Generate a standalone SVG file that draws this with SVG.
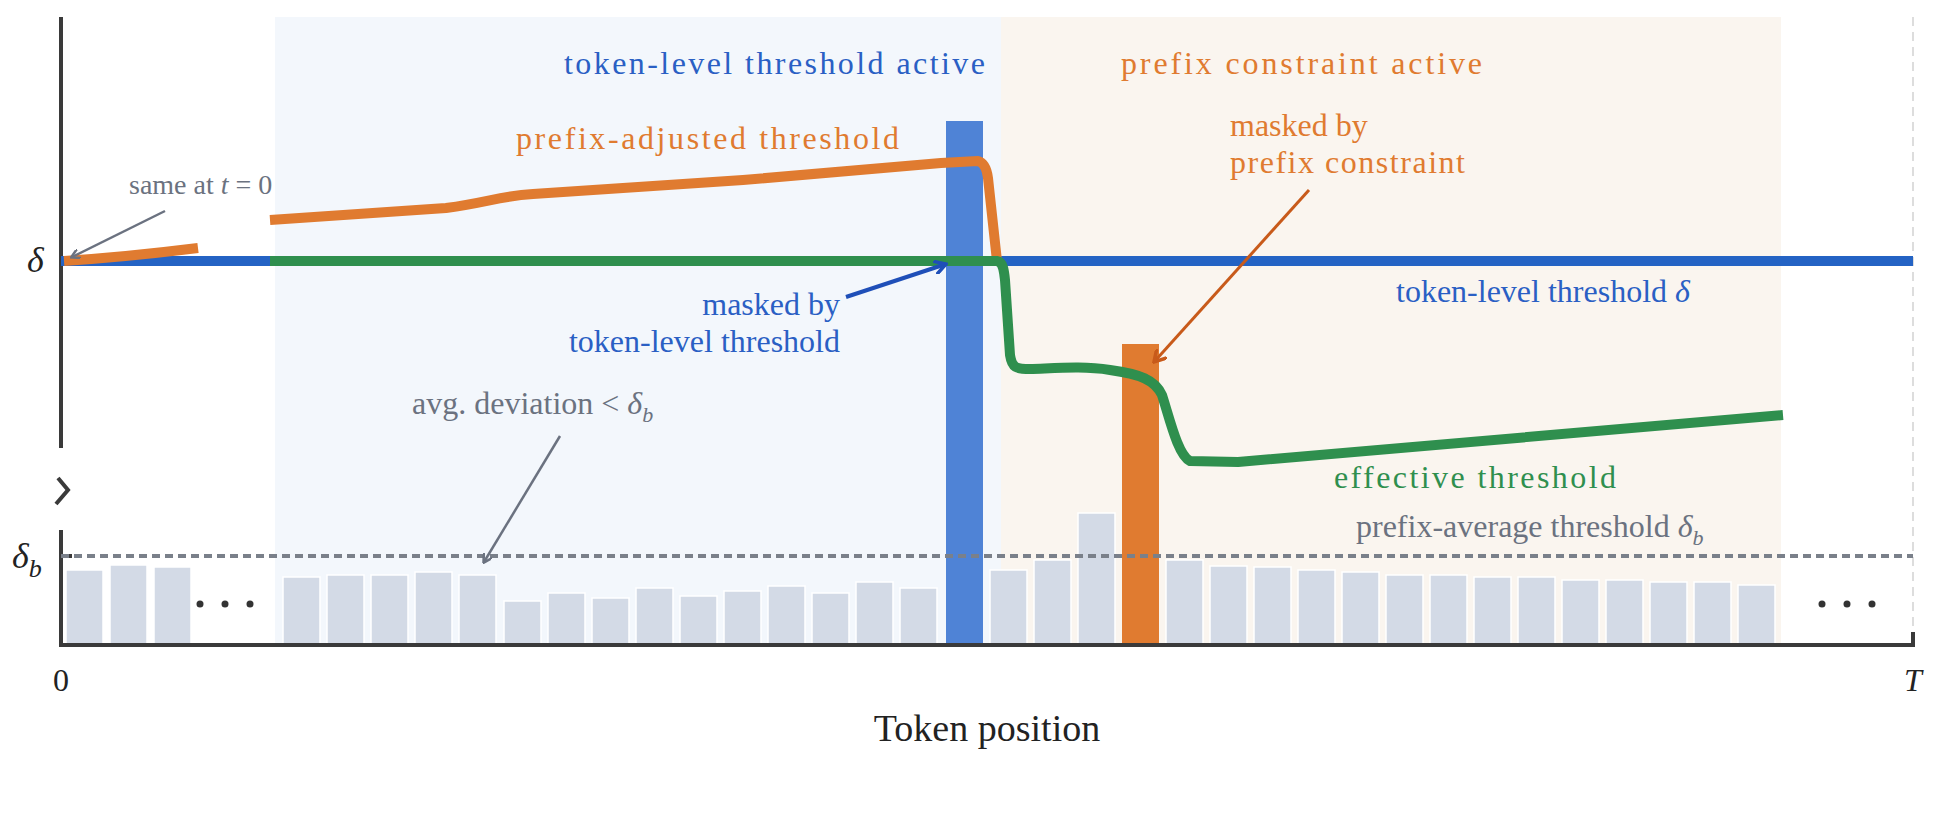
<svg xmlns="http://www.w3.org/2000/svg" width="1942" height="826" viewBox="0 0 1942 826">
<defs>
<marker id="ag" markerWidth="10" markerHeight="10" refX="8" refY="5" orient="auto" markerUnits="userSpaceOnUse"><path d="M0,0 L9,5 L0,10" fill="none" stroke="#6b7280" stroke-width="2.5"/></marker>
<marker id="ab" markerWidth="14" markerHeight="14" refX="12" refY="7" orient="auto" markerUnits="userSpaceOnUse"><path d="M0,0 L12,7 L0,14" fill="none" stroke="#1f4fb8" stroke-width="3.5"/></marker>
<marker id="ao" markerWidth="14" markerHeight="14" refX="12" refY="7" orient="auto" markerUnits="userSpaceOnUse"><path d="M0,0 L12,7 L0,14" fill="none" stroke="#c85a1a" stroke-width="3.5"/></marker>
</defs>
<style>
text{font-family:"Liberation Serif","Times New Roman",serif;font-size:32px}
.bar{fill:#d3dae6;stroke:#fff;stroke-width:1.5}
.b{fill:#2a5fc4}.o{fill:#e07b30}.g{fill:#2f8f4e}.gr{fill:#6b7280}.k{fill:#222}
</style>
<rect width="1942" height="826" fill="#fff"/>
<g id="backgrounds">
<rect x="275" y="17" width="726" height="628" fill="#f3f7fc"/>
<rect x="1001" y="17" width="780" height="628" fill="#faf5ef"/>
<line x1="1913" y1="17" x2="1913" y2="645" stroke="#ddd" stroke-width="2" stroke-dasharray="9,6"/>
</g>
<g id="bars">
<rect class="bar" x="66" y="570" width="37" height="75"/>
<rect class="bar" x="110" y="565" width="37" height="80"/>
<rect class="bar" x="154" y="567" width="37" height="78"/>
<rect class="bar" x="283" y="577" width="37" height="68"/>
<rect class="bar" x="327" y="575" width="37" height="70"/>
<rect class="bar" x="371" y="575" width="37" height="70"/>
<rect class="bar" x="415" y="572" width="37" height="73"/>
<rect class="bar" x="459" y="575" width="37" height="70"/>
<rect class="bar" x="504" y="601" width="37" height="44"/>
<rect class="bar" x="548" y="593" width="37" height="52"/>
<rect class="bar" x="592" y="598" width="37" height="47"/>
<rect class="bar" x="636" y="588" width="37" height="57"/>
<rect class="bar" x="680" y="596" width="37" height="49"/>
<rect class="bar" x="724" y="591" width="37" height="54"/>
<rect class="bar" x="768" y="586" width="37" height="59"/>
<rect class="bar" x="812" y="593" width="37" height="52"/>
<rect class="bar" x="856" y="582" width="37" height="63"/>
<rect class="bar" x="900" y="588" width="37" height="57"/>
<rect class="bar" x="990" y="570" width="37" height="75"/>
<rect class="bar" x="1034" y="560" width="37" height="85"/>
<rect class="bar" x="1078" y="513" width="37" height="132"/>
<rect class="bar" x="1166" y="560" width="37" height="85"/>
<rect class="bar" x="1210" y="566" width="37" height="79"/>
<rect class="bar" x="1254" y="567" width="37" height="78"/>
<rect class="bar" x="1298" y="570" width="37" height="75"/>
<rect class="bar" x="1342" y="572" width="37" height="73"/>
<rect class="bar" x="1386" y="575" width="37" height="70"/>
<rect class="bar" x="1430" y="575" width="37" height="70"/>
<rect class="bar" x="1474" y="577" width="37" height="68"/>
<rect class="bar" x="1518" y="577" width="37" height="68"/>
<rect class="bar" x="1562" y="580" width="37" height="65"/>
<rect class="bar" x="1606" y="580" width="37" height="65"/>
<rect class="bar" x="1650" y="582" width="37" height="63"/>
<rect class="bar" x="1694" y="582" width="37" height="63"/>
<rect class="bar" x="1738" y="585" width="37" height="60"/>
<rect x="946" y="121" width="37" height="524" fill="#4f83d6"/>
<rect x="1122" y="344" width="37" height="301" fill="#e07b30"/>
<circle cx="200" cy="604" r="3.5" fill="#333"/><circle cx="225" cy="604" r="3.5" fill="#333"/><circle cx="250" cy="604" r="3.5" fill="#333"/>
<circle cx="1822" cy="604" r="3.5" fill="#333"/><circle cx="1847" cy="604" r="3.5" fill="#333"/><circle cx="1872" cy="604" r="3.5" fill="#333"/>
</g>
<g id="axes" stroke="#3a3a3a" stroke-width="4" fill="none">
<line x1="61" y1="17" x2="61" y2="448"/>
<polyline points="58,478 68,490 56,504"/>
<line x1="61" y1="530" x2="61" y2="647"/>
<line x1="59" y1="645" x2="1915" y2="645"/>
<line x1="1913" y1="632" x2="1913" y2="647"/>
<line x1="61" y1="556" x2="72" y2="556"/>
</g>
<g id="connectors" fill="none" stroke-linejoin="round" stroke-linecap="butt">
<line x1="61" y1="556" x2="1913" y2="556" stroke="#7a808a" stroke-width="4" stroke-dasharray="8,5"/>
<line x1="61" y1="261" x2="1913" y2="261" stroke="#2463c4" stroke-width="10"/>
<path d="M64,261 C110,258 150,254 198,248" stroke="#e07b30" stroke-width="10"/>
<path d="M270,220 L446,208 C490,202 500,196 533,194 L743,180 L941,163 L978,161 C985,163 987,170 988,178 L997,261" stroke="#e07b30" stroke-width="10"/>
<path d="M270,261 L997,261 C1003,262 1004,270 1005,280 L1010,355 C1012,368 1016,369 1030,369 C1060,368 1084,366 1110,370 C1140,374 1155,380 1162,395 C1170,420 1178,455 1190,461 L1238,462 L1783,415" stroke="#2f8f4e" stroke-width="10"/>
<line x1="165" y1="211" x2="72" y2="257" stroke="#6b7280" stroke-width="2.5" marker-end="url(#ag)"/>
<line x1="560" y1="436" x2="484" y2="562" stroke="#6b7280" stroke-width="2.5" marker-end="url(#ag)"/>
<line x1="846" y1="297" x2="946" y2="264" stroke="#1f4fb8" stroke-width="4" marker-end="url(#ab)"/>
<line x1="1309" y1="190" x2="1154" y2="362" stroke="#c85a1a" stroke-width="3" marker-end="url(#ao)"/>
</g>
<g id="labels">
<text class="b" x="564" y="74" textLength="421">token-level threshold active</text>
<text class="o" x="1121" y="74" textLength="361">prefix constraint active</text>
<text class="o" x="516" y="149" textLength="383">prefix-adjusted threshold</text>
<text class="gr" x="129" y="194" font-size="28" style="font-size:28px">same at <tspan font-style="italic">t</tspan> = 0</text>
<text class="o" x="1230" y="136">masked by</text>
<text class="o" x="1230" y="173" textLength="235">prefix constraint</text>
<text class="b" x="840" y="315" text-anchor="end">masked by</text>
<text class="b" x="840" y="352" text-anchor="end">token-level threshold</text>
<text class="b" x="1396" y="302">token-level threshold <tspan font-style="italic">δ</tspan></text>
<text class="gr" x="412" y="414">avg. deviation &lt; <tspan font-style="italic">δ</tspan><tspan font-style="italic" font-size="22" dy="8">b</tspan></text>
<text class="g" x="1334" y="488" textLength="282">effective threshold</text>
<text class="gr" x="1356" y="537">prefix-average threshold <tspan font-style="italic">δ</tspan><tspan font-style="italic" font-size="22" dy="8">b</tspan></text>
<text class="k" x="27" y="272" font-style="italic" style="font-size:36px">δ</text>
<text class="k" x="12" y="568" font-style="italic" style="font-size:36px">δ<tspan font-size="26" dy="9">b</tspan></text>
<text class="k" x="61" y="691" text-anchor="middle">0</text>
<text class="k" x="1913" y="691" text-anchor="middle" font-style="italic">T</text>
<text class="k" x="987" y="741" text-anchor="middle" style="font-size:38px">Token position</text>
</g>
</svg>
